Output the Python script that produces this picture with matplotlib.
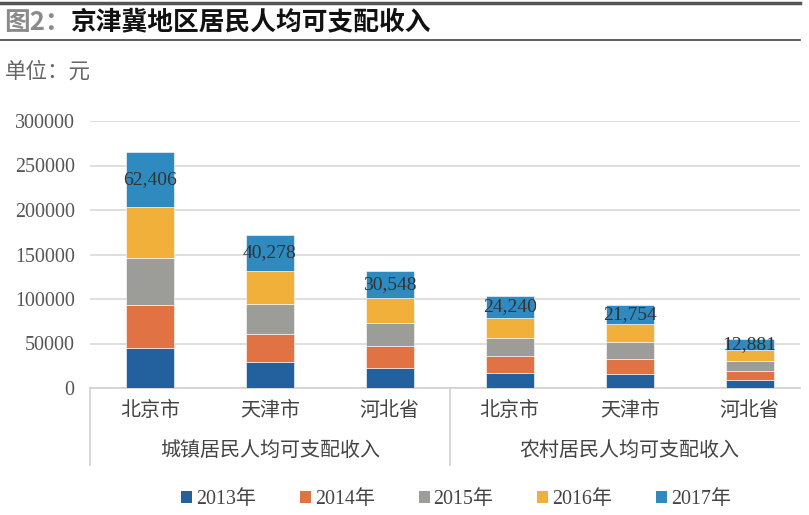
import matplotlib
matplotlib.use("Agg")
import matplotlib.pyplot as plt
import numpy as np
from matplotlib.lines import Line2D
from matplotlib.patches import Patch

# data
cities = ['北京市', '天津市', '河北省', '北京市', '天津市', '河北省']
groups = ['城镇居民人均可支配收入', '农村居民人均可支配收入']
years = ['2013年', '2014年', '2015年', '2016年', '2017年']
v2013 = [44564, 28980, 22580, 17101, 15841, 9102]
v2014 = [48532, 31506, 24141, 18867, 17014, 10186]
v2015 = [52859, 34101, 26152, 20569, 18482, 11051]
v2016 = [57275, 37110, 28249, 22310, 20076, 11919]
v2017 = [62406, 40278, 30548, 24240, 21754, 12881]
yticks = [0, 50000, 100000, 150000, 200000, 250000, 300000]

colors = ['#22609E', '#E07243', '#9C9C98', '#F0B03A', '#2F8AC0']
num_font = ['Liberation Serif', 'Noto Sans CJK SC']
cjk = ['Noto Sans CJK SC', 'DejaVu Sans']

W, H = 809, 515
fig = plt.figure(figsize=(W / 100, H / 100), dpi=100)

# title block
fig.add_artist(Line2D([0, 800 / W], [1 - 3 / H, 1 - 3 / H], color='#555555', lw=2.5))
fig.add_artist(Line2D([0, 800 / W], [1 - 40 / H, 1 - 40 / H], color='#444444', lw=1.2))
fig.text(4 / W, 1 - 22 / H, '图2：', fontsize=18.5, fontweight='bold', color='#8a8a8a',
         family=cjk, va='center')
fig.text(71 / W, 1 - 22 / H, '京津冀地区居民人均可支配收入', fontsize=18.5, fontweight='bold',
         color='#111111', family=cjk, va='center')
fig.text(5 / W, 1 - 72 / H, '单位：元', fontsize=15.5, color='#666666', family=cjk, va='center')

# axes
left, right, top, bottom = 90, 800, 121, 388
ax = fig.add_axes([left / W, 1 - bottom / H, (right - left) / W, (bottom - top) / H])
x = np.arange(len(cities))
series = [v2013, v2014, v2015, v2016, v2017]
base = np.zeros(len(cities))
bars = None
for vals, c in zip(series, colors):
    bars = ax.bar(x, vals, 0.4, bottom=base, color=c, edgecolor='white', linewidth=0.4, zorder=3)
    base = base + np.array(vals)

for b, v in zip(bars, v2017):
    ax.text(b.get_x() + b.get_width() / 2, b.get_y() + b.get_height() / 2, f'{v:,}',
            ha='center', va='center', fontsize=14, color='#333333', family=num_font, zorder=4)

ax.set_xlim(-0.5, 5.42)
ax.set_ylim(0, 300000)
ax.set_yticks(yticks)
ax.set_yticklabels([str(t) for t in yticks], family=num_font, fontsize=14.4, color='#555555')
ax.tick_params(axis='y', length=0, pad=11)
ax.set_xticks([])
ax.grid(axis='y', color='#d9d9d9', lw=1.2, zorder=0)
for s in ['top', 'right', 'left']:
    ax.spines[s].set_visible(False)
ax.spines['bottom'].set_color('#d0d0d0')
ax.spines['bottom'].set_linewidth(1.2)

# two-level category labels
for xi, name in zip(x, cities):
    ax.text(xi, -22 / (bottom - top) * 300000, name, ha='center', va='center',
            fontsize=14.4, color='#444444', family=cjk)
for gi, g in enumerate(groups):
    ax.text(gi * 3 + 1, -62 / (bottom - top) * 300000, g, ha='center', va='center',
            fontsize=14.4, color='#444444', family=cjk, clip_on=False)
for xs in [-0.5, 2.5]:
    ax.plot([xs, xs], [0, -77 / (bottom - top) * 300000], color='#d0d0d0', lw=1.2,
            clip_on=False, transform=ax.transData)

handles = [Patch(facecolor=c, edgecolor='none') for c in colors]
leg = fig.legend(handles, years, loc='center', bbox_to_anchor=(456 / W, 1 - 500 / H), ncol=5,
                 frameon=False, handlelength=0.55, handleheight=0.55, handletextpad=0.2,
                 columnspacing=2.2, prop={'family': num_font, 'size': 14.4})
for t in leg.get_texts():
    t.set_color('#444444')

fig.savefig('out.png', dpi=100)
